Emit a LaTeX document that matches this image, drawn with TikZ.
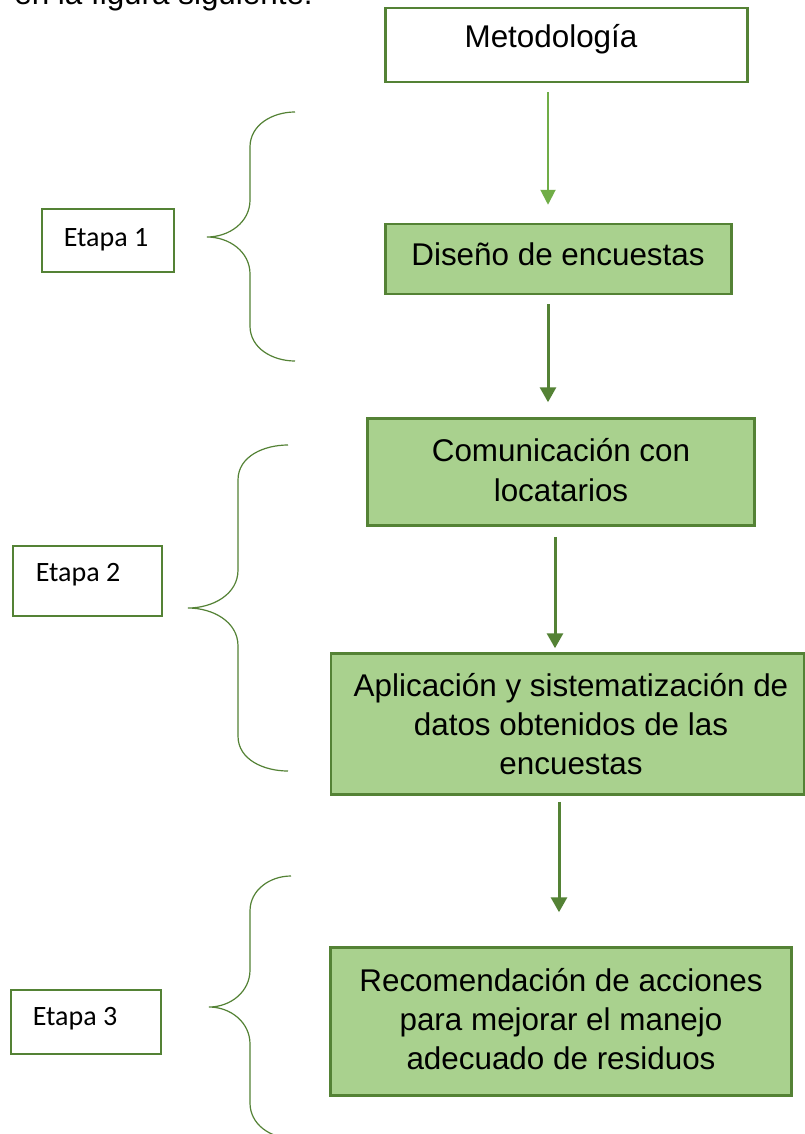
\documentclass[tikz,border=0pt]{standalone}
\usepackage{fontspec}
\setmainfont{Liberation Sans}
\newfontfamily\calib{Carlito}
\usetikzlibrary{arrows.meta,calc}
\definecolor{gdark}{HTML}{548235}
\definecolor{glight}{HTML}{70AD47}
\definecolor{gfill}{HTML}{A9D18E}
\begin{document}
\begin{tikzpicture}[x=1pt,y=-1pt,
  flowbox/.style={draw=gdark,line width=2.5pt,fill=gfill,inner sep=0pt},
  topbox/.style={draw=gdark,line width=2.5pt,fill=white,inner sep=0pt},
  etbox/.style={draw=gdark,line width=2.2pt,fill=white,inner sep=0pt},
  mtxt/.style={font=\fontsize{31.4}{39.3}\selectfont,align=center,inner sep=0pt},
  etxt/.style={font=\calib\fontsize{28}{34}\selectfont,inner sep=0pt},
  arrlight/.style={draw=glight,line width=2pt,-{Triangle[width=15pt,length=15pt]}},
  arrdark/.style={draw=gdark,line width=3pt,-{Triangle[width=16pt,length=15pt]}},
  brace/.style={draw=gdark,line width=1.2pt}]
\useasboundingbox (0,0) rectangle (805,1134);
\clip (0,0) rectangle (805,1134);
\fill[white] (0,0) rectangle (805,1134);

% cut-off line of text above
\node[font=\fontsize{31.4}{38}\selectfont,anchor=base east,inner sep=0pt] (prev) at (313,5) {en la figura siguiente.};

% main flow boxes
\node[topbox,minimum width=362pt,minimum height=74pt] (met) at (566.5,45) {};
\node[mtxt,anchor=base] (mett) at (551,48) {Metodología};
\node[flowbox,minimum width=346pt,minimum height=70pt] (dis) at (558.5,259) {};
\node[mtxt,anchor=base] (dist) at (558,265) {Diseño de encuestas};
\node[flowbox,minimum width=387pt,minimum height=107pt] (com) at (561,472) {};
\node[mtxt] (comt) at (561,470) {Comunicación con\\locatarios};
\node[flowbox,minimum width=473pt,minimum height=141pt] (apl) at (567.5,724) {};
\node[mtxt] (aplt) at (571,724) {Aplicación y sistematización de\\datos obtenidos de las\\encuestas};
\node[flowbox,minimum width=461pt,minimum height=148pt] (rec) at (561,1021.5) {};
\node[mtxt] (rect) at (561,1019) {Recomendación de acciones\\para mejorar el manejo\\adecuado de residuos};

% etapa boxes
\node[etbox,minimum width=132pt,minimum height=63pt] (e1) at (108,240.5) {};
\node[etxt] (e1t) at (106,240) {Etapa 1};
\node[etbox,minimum width=149pt,minimum height=70pt] (e2) at (87.5,581) {};
\node[etxt] (e2t) at (78,575) {Etapa 2};
\node[etbox,minimum width=150pt,minimum height=64pt] (e3) at (86,1022) {};
\node[etxt] (e3t) at (75,1019) {Etapa 3};

% arrows
\coordinate (x1) at (548,0);
\coordinate (x2) at (548,0);
\coordinate (x3) at (555,0);
\coordinate (x4) at (559,0);
\draw[arrlight] ($(met.south -| x1)+(0,9)$) -- ($(dis.north -| x1)+(0,-18)$);
\draw[arrdark] ($(dis.south -| x2)+(0,9)$) -- ($(com.north -| x2)+(0,-15)$);
\draw[arrdark] ($(com.south -| x3)+(0,10)$) -- ($(apl.north -| x3)+(0,-4)$);
\draw[arrdark] ($(apl.south -| x4)+(0,6)$) -- ($(rec.north -| x4)+(0,-34)$);

% braces
\coordinate (b1top) at (295,112);
\coordinate (b1tip) at (207,237);
\coordinate (b1bot) at (295,361);
\draw[brace] (b1top) to[out=180,in=90] (250,147) -- (250,200) to[out=270,in=0] (b1tip)
  to[out=0,in=90] (250,274) -- (250,326) to[out=270,in=180] (b1bot);
\coordinate (b2top) at (288,445);
\coordinate (b2tip) at (188,608);
\coordinate (b2bot) at (288,771);
\draw[brace] (b2top) to[out=180,in=90] (238,480) -- (238,570) to[out=270,in=0] (b2tip)
  to[out=0,in=90] (238,646) -- (238,736) to[out=270,in=180] (b2bot);
\coordinate (b3top) at (291,876);
\coordinate (b3tip) at (209,1007);
\coordinate (b3bot) at (291,1138);
\draw[brace] (b3top) to[out=180,in=90] (250,911) -- (250,970) to[out=270,in=0] (b3tip)
  to[out=0,in=90] (250,1044) -- (250,1103) to[out=270,in=180] (b3bot);
\end{tikzpicture}
\end{document}
